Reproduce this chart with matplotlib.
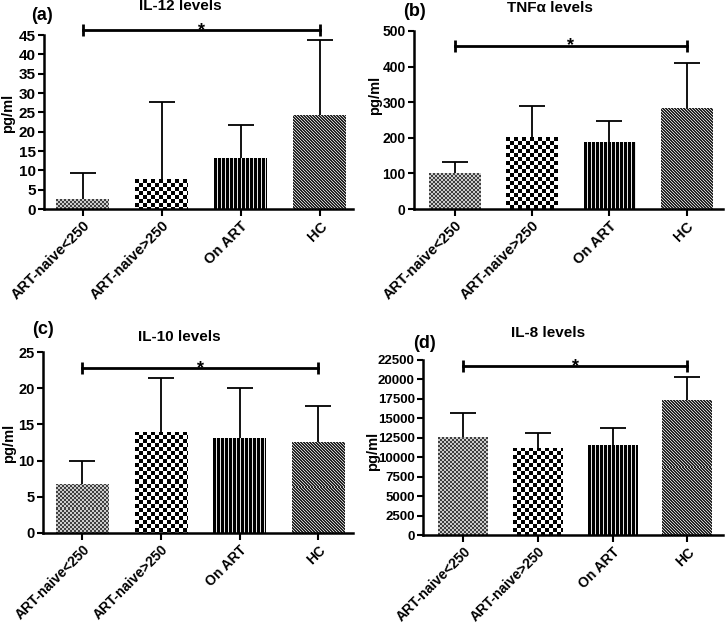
import numpy as np
import matplotlib
matplotlib.use('Agg')
import matplotlib.pyplot as plt

plt.rcParams['font.family'] = ['Liberation Sans', 'DejaVu Sans']
plt.rcParams['font.weight'] = 'bold'

# Data (mean and upward SD)
groups = ['ART-naive<250', 'ART-naive>250', 'On ART', 'HC']

il12_mean = [2.5, 7.7, 13.2, 24.2]
il12_sd = [6.9, 20.0, 8.5, 19.4]

tnf_mean = [100, 201, 189, 283]
tnf_sd = [31, 88, 59, 126]

il10_mean = [6.8, 14.0, 13.1, 12.6]
il10_sd = [3.1, 7.4, 6.9, 4.9]

il8_mean = [12550, 11230, 11530, 17360]
il8_sd = [3090, 1890, 2230, 3000]

W, H = 727, 623


def fx(px):
    return px / W


def fy(py):
    return 1 - py / H


panels = [
    dict(letter='(a)', title='IL-12 levels', mean=il12_mean, sd=il12_sd,
         ymax=45, step=5, sig=46.3, yfs=11, xfs=10.5,
         box=(44, 209, 309, 174), xlim=(-0.49, 3.42),
         letter_xy=(42, 16), title_xy=(180, 6), ylab_xy=(8, 113)),
    dict(letter='(b)', title='TNF\u03b1 levels', mean=tnf_mean, sd=tnf_sd,
         ymax=500, step=100, sig=459, yfs=10, xfs=10.5,
         box=(414, 209, 309, 178), xlim=(-0.53, 3.47),
         letter_xy=(415, 12), title_xy=(550, 8), ylab_xy=(375, 95)),
    dict(letter='(c)', title='IL-10 levels', mean=il10_mean, sd=il10_sd,
         ymax=25, step=5, sig=22.8, yfs=10.5, xfs=10,
         box=(43, 533, 310, 181), xlim=(-0.50, 3.44),
         letter_xy=(43, 330), title_xy=(179, 337), ylab_xy=(9, 443)),
    dict(letter='(d)', title='IL-8 levels', mean=il8_mean, sd=il8_sd,
         ymax=22500, step=2500, sig=21730, yfs=9.5, xfs=10,
         box=(423, 535, 300, 175), xlim=(-0.54, 3.48),
         letter_xy=(425, 343), title_xy=(548, 333), ylab_xy=(373, 451)),
]

kinds = ['fine', 'checker', 'vstripe', 'diag']


def pattern(kind, h, w):
    r, c = np.mgrid[0:h, 0:w]
    if kind == 'fine':
        return np.where(((r // 2) + (c // 2)) % 2 == 0, 0.25, 0.8)
    if kind == 'checker':
        return np.where(((r // 4) + (c // 4)) % 2 == 0, 0.0, 1.0)
    if kind == 'vstripe':
        return np.where(c % 4 == 3, 0.9, 0.0)
    return np.where((c - r) % 3 == 0, 0.8, 0.15)


fig = plt.figure(figsize=(W / 100, H / 100), dpi=100)

for p in panels:
    left, bottom, width, height = p['box']
    ax = fig.add_axes([fx(left), fy(bottom), width / W, height / H])
    x = np.arange(len(groups))
    ax.set_xlim(*p['xlim'])
    ax.set_ylim(0, p['ymax'])

    bars = ax.bar(x, p['mean'], width=0.67, color='none', edgecolor='none')
    for bar, kind in zip(bars, kinds):
        ext = bar.get_window_extent()
        pw, ph = int(round(ext.width)), max(int(round(ext.height)), 1)
        img = pattern(kind, ph, pw)
        x0 = bar.get_x()
        im = ax.imshow(img, cmap='gray', vmin=0, vmax=1, interpolation='nearest',
                       extent=(x0, x0 + bar.get_width(), 0, bar.get_height()),
                       aspect='auto', origin='upper', zorder=2)
        im.set_clip_path(bar)

    # upward-only error bars with a cap at the top
    top = np.array(p['mean']) + np.array(p['sd'])
    ax.vlines(x, p['mean'], top, color='black', lw=1.3, zorder=1)
    ax.plot(x, top, ls='none', marker='_', markersize=19.4, mew=1.3,
            color='black', zorder=1, clip_on=False)

    # significance bracket between first and last group
    ax.plot([0, 3], [p['sig'], p['sig']], color='black', lw=2, clip_on=False,
            marker='|', markersize=8, mew=2, zorder=5)
    ax.annotate('*', xy=(1.5, p['sig']), xytext=(0, -3.5),
                textcoords='offset points', ha='center', va='baseline',
                fontsize=13, fontweight='bold', annotation_clip=False)

    ax.set_xlim(*p['xlim'])
    ax.set_ylim(0, p['ymax'])
    ax.set_yticks(np.arange(0, p['ymax'] + p['step'] / 2, p['step']))
    ax.set_xticks(x)
    ax.set_xticklabels(groups, rotation=45, ha='right', rotation_mode='anchor',
                       fontsize=p['xfs'], fontweight='bold')
    for lab in ax.get_yticklabels():
        lab.set_fontsize(p['yfs'])
        lab.set_fontweight('bold')
    ax.tick_params(axis='both', width=1.5, length=4, pad=2, colors='black')
    ax.tick_params(axis='x', length=5, pad=2)
    for s in ['top', 'right']:
        ax.spines[s].set_visible(False)
    for s in ['left', 'bottom']:
        ax.spines[s].set_linewidth(1.8)

    fig.text(fx(p['letter_xy'][0]), fy(p['letter_xy'][1]), p['letter'],
             ha='center', va='center', fontsize=13, fontweight='bold')
    fig.text(fx(p['title_xy'][0]), fy(p['title_xy'][1]), p['title'],
             ha='center', va='center', fontsize=11, fontweight='bold')
    fig.text(fx(p['ylab_xy'][0]), fy(p['ylab_xy'][1]), 'pg/ml', rotation=90,
             ha='center', va='center', fontsize=10.5, fontweight='bold')

fig.savefig('out.png', dpi=100, facecolor='white')
